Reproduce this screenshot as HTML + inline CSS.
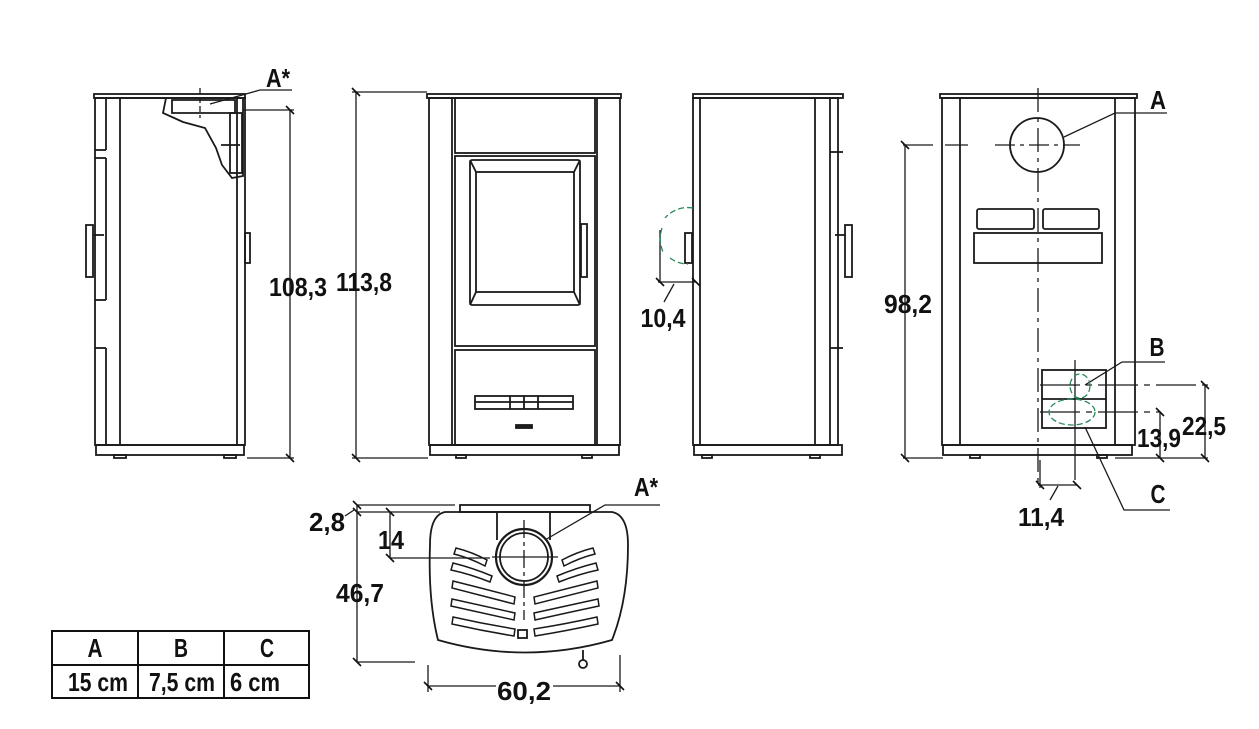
<!DOCTYPE html>
<html><head><meta charset="utf-8"><style>
html,body{margin:0;padding:0;background:#fff;}
svg{display:block;}
text{font-family:"Liberation Sans Narrow","Liberation Sans",sans-serif;font-weight:bold;fill:#111;}
</style></head><body>
<svg width="1259" height="729" viewBox="0 0 1259 729" xmlns="http://www.w3.org/2000/svg">
<g fill="none" stroke="#1a1a1a" stroke-width="1.8">
<!-- SIDE VIEW 1 -->
<rect x="94" y="94" width="151" height="4"/>
<rect x="95" y="98" width="150" height="347"/>
<line x1="120" y1="98" x2="120" y2="445"/>
<line x1="237" y1="98" x2="237" y2="445"/>
<line x1="106" y1="98" x2="106" y2="150"/>
<line x1="95" y1="150" x2="106" y2="150"/>
<line x1="106" y1="158" x2="106" y2="300"/>
<line x1="95" y1="158" x2="106" y2="158"/>
<line x1="95" y1="300" x2="106" y2="300"/>
<line x1="95" y1="348" x2="106" y2="348"/>
<line x1="106" y1="348" x2="106" y2="445"/>
<rect x="86" y="225" width="7" height="52"/>
<line x1="93" y1="235" x2="104" y2="235"/>
<rect x="245" y="233" width="5" height="30"/>
<rect x="96" y="445" width="148" height="10"/>
<rect x="114" y="455" width="12" height="3"/>
<rect x="224" y="455" width="12" height="3"/>
<path d="M166 98 L163 113 L183 122 L205 128 L216 148 L222 165 L232 178 L243 176 L243 98"/>
<path d="M172 100 H235 V113 H172 Z"/>
<rect x="230" y="113" width="12" height="60"/>
<line x1="221" y1="145" x2="240" y2="145"/>
<!-- front view -->
<rect x="427" y="94" width="194" height="4"/>
<rect x="429" y="98" width="191" height="347"/>
<line x1="452" y1="98" x2="452" y2="445"/>
<line x1="597" y1="98" x2="597" y2="445"/>
<rect x="455" y="98" width="140" height="55"/>
<rect x="455" y="156" width="140" height="190"/>
<rect x="470" y="160" width="110" height="145" rx="2"/>
<rect x="476" y="172" width="98" height="120"/>
<line x1="470" y1="160" x2="476" y2="172"/><line x1="580" y1="160" x2="574" y2="172"/>
<line x1="470" y1="305" x2="476" y2="292"/><line x1="580" y1="305" x2="574" y2="292"/>
<rect x="581" y="224" width="6" height="53"/>
<rect x="455" y="350" width="140" height="95"/>
<rect x="475" y="396" width="98" height="13"/>
<line x1="475" y1="402" x2="573" y2="402"/>
<line x1="510" y1="396" x2="510" y2="409"/><line x1="524" y1="396" x2="524" y2="409"/><line x1="538" y1="396" x2="538" y2="409"/>
<rect x="516" y="425" width="16" height="3" fill="#222"/>
<rect x="430" y="445" width="189" height="10"/>
<rect x="456" y="455" width="10" height="3"/>
<rect x="582" y="455" width="10" height="3"/>
<!-- side view 2 -->
<rect x="693" y="94" width="150" height="4"/>
<rect x="693" y="98" width="145" height="347"/>
<line x1="700" y1="98" x2="700" y2="445"/>
<line x1="815" y1="98" x2="815" y2="445"/>
<line x1="830" y1="98" x2="830" y2="445"/>
<line x1="830" y1="152" x2="843" y2="152"/>
<line x1="830" y1="348" x2="843" y2="348"/>
<rect x="845" y="225" width="7" height="52"/>
<line x1="835" y1="235" x2="845" y2="235"/>
<rect x="685" y="233" width="7" height="30"/>
<rect x="694" y="445" width="148" height="10"/>
<rect x="702" y="455" width="10" height="3"/>
<rect x="810" y="455" width="10" height="3"/>
<!-- rear view -->
<rect x="940" y="94" width="197" height="4"/>
<rect x="942" y="98" width="193" height="347"/>
<line x1="960" y1="98" x2="960" y2="445"/>
<line x1="1115" y1="98" x2="1115" y2="445"/>
<circle cx="1037" cy="145" r="27"/>
<rect x="977" y="209" width="57" height="20" rx="2"/>
<rect x="1043" y="209" width="56" height="20" rx="2"/>
<rect x="974" y="233" width="128" height="30"/>
<rect x="1042" y="370" width="64" height="58"/>
<line x1="1042" y1="399" x2="1106" y2="399"/>
<rect x="943" y="445" width="189" height="10"/>
<rect x="970" y="455" width="10" height="3"/>
<rect x="1097" y="455" width="10" height="3"/>
<!-- top view -->
<rect x="460" y="505" width="130" height="7"/>
<path d="M445 512 Q430 515 430 545 Q428 600 438 640 Q525 665 612 640 Q628 600 628 545 Q628 515 612 512 Z"/>
<path d="M497 512 V540 M550 512 V540"/>
<circle cx="524" cy="557" r="28" stroke-width="2.2"/>
<circle cx="524" cy="557" r="24"/>
<rect x="518" y="630" width="9" height="8"/>
<g stroke-width="1.5">
<path d="M456 548 Q472 552 487 560 L485 566 Q470 558 454 554 Z"/>
<path d="M453 563 Q473 568 492 576 L490 582 Q470 574 451 570 Z"/>
<path d="M453 581 Q485 589 515 597 L514 604 Q483 596 452 588 Z"/>
<path d="M452 599 Q484 606 515 613 L514 620 Q483 613 451 606 Z"/>
<path d="M453 617 Q484 624 515 629 L514 636 Q483 631 452 624 Z"/>
<path d="M593 548 Q577 552 562 560 L564 566 Q579 558 595 554 Z"/>
<path d="M596 563 Q576 568 557 576 L559 582 Q579 574 598 570 Z"/>
<path d="M597 581 Q565 589 534 597 L535 604 Q566 596 598 588 Z"/>
<path d="M598 599 Q566 606 534 613 L535 620 Q566 613 599 606 Z"/>
<path d="M597 617 Q566 624 534 629 L535 636 Q566 631 598 624 Z"/>
</g>
<line x1="583" y1="650" x2="583" y2="660"/>
<circle cx="583" cy="664" r="4"/>
</g>

<!-- dimension / leader lines -->
<g fill="none" stroke="#1a1a1a" stroke-width="1.3">
<line x1="243" y1="110" x2="294" y2="110"/><line x1="247" y1="458" x2="294" y2="458"/>
<line x1="290" y1="110" x2="290" y2="458"/>
<line x1="352" y1="92" x2="427" y2="92"/><line x1="352" y1="458" x2="428" y2="458"/>
<line x1="356" y1="92" x2="356" y2="458"/>
<polyline points="210,104 260,90 292,90"/>
<line x1="200" y1="88" x2="200" y2="118" stroke-dasharray="6,3"/>
<line x1="660" y1="230" x2="660" y2="283"/>
<line x1="658" y1="282" x2="696" y2="282"/>
<line x1="674" y1="284" x2="664" y2="302"/>
<line x1="1038" y1="88" x2="1038" y2="482" stroke-dasharray="24,6,4,6"/>
<line x1="995" y1="145" x2="1080" y2="145" stroke-dasharray="20,5,4,5"/>
<line x1="903" y1="145" x2="968" y2="145" stroke-dasharray="30,12"/>
<line x1="903" y1="458" x2="943" y2="458"/>
<line x1="905" y1="145" x2="905" y2="458"/>
<polyline points="1064,137 1115,113 1167,113"/>
<line x1="1075" y1="360" x2="1075" y2="480"/>
<line x1="1040" y1="385" x2="1208" y2="385" stroke-dasharray="40,6,6,6"/>
<line x1="1040" y1="412" x2="1160" y2="412" stroke-dasharray="40,6,6,6"/>
<polyline points="1085,385 1122,362 1165,362"/>
<polyline points="1085,427 1124,510 1170,510"/>
<line x1="1205" y1="385" x2="1205" y2="458"/>
<line x1="1160" y1="412" x2="1160" y2="458"/>
<line x1="1115" y1="458" x2="1208" y2="458"/>
<line x1="1040" y1="460" x2="1040" y2="488"/>
<line x1="1038" y1="485" x2="1077" y2="485"/>
<line x1="1058" y1="486" x2="1050" y2="500"/>
<line x1="357" y1="505" x2="455" y2="505"/>
<line x1="357" y1="512" x2="440" y2="512"/>
<line x1="390" y1="558" x2="490" y2="558"/>
<line x1="357" y1="662" x2="415" y2="662"/>
<line x1="357" y1="505" x2="357" y2="662"/>
<line x1="390" y1="512" x2="390" y2="558"/>
<line x1="345" y1="516" x2="354" y2="510"/>
<line x1="428" y1="665" x2="428" y2="692"/>
<line x1="620" y1="655" x2="620" y2="692"/>
<line x1="428" y1="686" x2="496" y2="686"/><line x1="553" y1="686" x2="620" y2="686"/>
<line x1="524" y1="520" x2="524" y2="620" stroke-dasharray="18,4,4,4"/>
<line x1="492" y1="557" x2="558" y2="557"/>
<polyline points="545,540 605,505 660,505"/>
</g>
<!-- tick marks -->
<g stroke="#111" stroke-width="1.6">
<path d="M286 106 L294 114 M286 454 L294 462 M352 88 L360 96 M352 454 L360 462 M656 278 L664 286 M692 278 L700 286 M901 141 L909 149 M901 454 L909 462 M1201 381 L1209 389 M1201 454 L1209 462 M1156 408 L1164 416 M1156 454 L1164 462 M1036 481 L1044 489 M1073 481 L1081 489 M353 501 L361 509 M353 508 L361 516 M353 658 L361 666 M386 508 L394 516 M386 554 L394 562 M424 682 L432 690 M616 682 L624 690"/>
</g>
<!-- green dashed -->
<g fill="none" stroke="#2a8a5a" stroke-width="1.3" stroke-dasharray="6,3">
<path d="M693 208 A30 30 0 0 0 665 218"/>
<path d="M662 228 A34 34 0 0 0 663 252"/>
<path d="M670 258 A30 30 0 0 0 688 264"/>
<ellipse cx="1080" cy="386" rx="10" ry="12"/>
<ellipse cx="1072" cy="412" rx="23" ry="13"/>
</g>

<!-- table -->
<g fill="none" stroke="#111" stroke-width="2">
<rect x="52" y="631" width="257" height="67"/>
<line x1="52" y1="665" x2="309" y2="665"/>
<line x1="138" y1="631" x2="138" y2="698"/>
<line x1="224" y1="631" x2="224" y2="698"/>
</g>

<g font-size="26">
<text x="298" y="296" text-anchor="middle" textLength="58" lengthAdjust="spacingAndGlyphs">108,3</text>
<text x="364" y="291" text-anchor="middle" textLength="56" lengthAdjust="spacingAndGlyphs">113,8</text>
<text x="663" y="327" text-anchor="middle" textLength="45" lengthAdjust="spacingAndGlyphs">10,4</text>
<text x="908" y="313" text-anchor="middle" textLength="48" lengthAdjust="spacingAndGlyphs">98,2</text>
<text x="1159" y="447" text-anchor="middle" textLength="44" lengthAdjust="spacingAndGlyphs">13,9</text>
<text x="1204" y="435" text-anchor="middle" textLength="44" lengthAdjust="spacingAndGlyphs">22,5</text>
<text x="1041" y="526" text-anchor="middle" textLength="46" lengthAdjust="spacingAndGlyphs">11,4</text>
<text x="327" y="531" text-anchor="middle" textLength="36" lengthAdjust="spacingAndGlyphs">2,8</text>
<text x="391" y="549" text-anchor="middle" textLength="26" lengthAdjust="spacingAndGlyphs">14</text>
<text x="360" y="602" text-anchor="middle" textLength="48" lengthAdjust="spacingAndGlyphs">46,7</text>
<text x="524" y="700" text-anchor="middle" textLength="54" lengthAdjust="spacingAndGlyphs">60,2</text>
<text x="278" y="87" text-anchor="middle" textLength="24" lengthAdjust="spacingAndGlyphs">A*</text>
<text x="646" y="496" text-anchor="middle" textLength="24" lengthAdjust="spacingAndGlyphs">A*</text>
<text x="1158" y="109" text-anchor="middle" textLength="16" lengthAdjust="spacingAndGlyphs">A</text>
<text x="1157" y="356" text-anchor="middle" textLength="15" lengthAdjust="spacingAndGlyphs">B</text>
<text x="1158" y="503" text-anchor="middle" textLength="15" lengthAdjust="spacingAndGlyphs">C</text>
<text x="95" y="657" text-anchor="middle" textLength="15" lengthAdjust="spacingAndGlyphs">A</text>
<text x="181" y="657" text-anchor="middle" textLength="14" lengthAdjust="spacingAndGlyphs">B</text>
<text x="267" y="657" text-anchor="middle" textLength="14" lengthAdjust="spacingAndGlyphs">C</text>
<text x="98" y="691" text-anchor="middle" textLength="60" lengthAdjust="spacingAndGlyphs">15 cm</text>
<text x="182" y="691" text-anchor="middle" textLength="66" lengthAdjust="spacingAndGlyphs">7,5 cm</text>
<text x="255" y="691" text-anchor="middle" textLength="50" lengthAdjust="spacingAndGlyphs">6 cm</text>
</g>
</svg>
</body></html>
